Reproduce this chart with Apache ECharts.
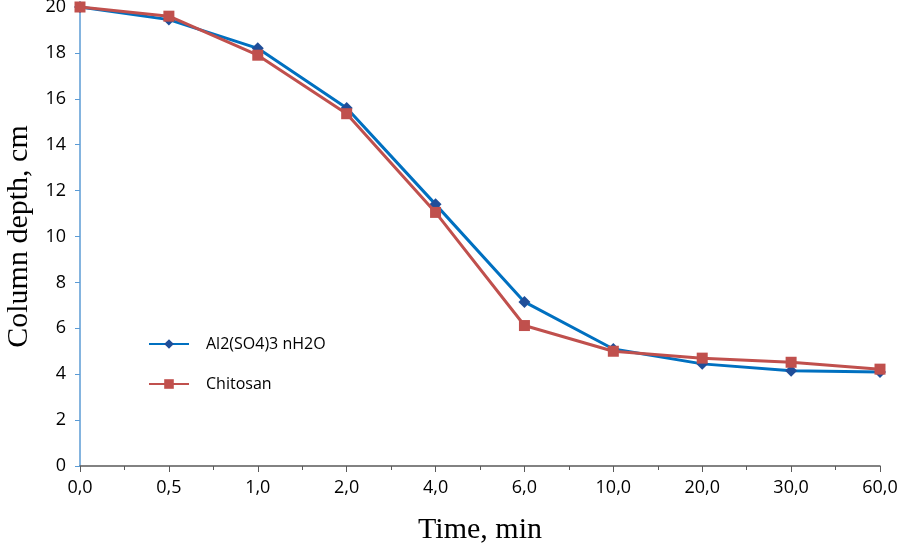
<!DOCTYPE html>
<html>
<head>
<meta charset="utf-8">
<script src="https://cdn.jsdelivr.net/npm/echarts@6/dist/echarts.min.js"></script>
<style>html,body{margin:0;padding:0;background:#fff}#c{width:898px;height:547px}</style>
</head>
<body>
<div id="c"></div>
<script>
const timeLabels = ['0,0','0,5','1,0','2,0','4,0','6,0','10,0','20,0','30,0','60,0'];
const alumValues = [20, 19.45, 18.2, 15.6, 11.4, 7.15, 5.1, 4.45, 4.15, 4.1];
const chitosanValues = [20, 19.6, 17.9, 15.35, 11.05, 6.12, 5.0, 4.7, 4.52, 4.22];
const yTicks = [0, 20, 2];

const chart = echarts.init(document.getElementById('c'));
const toPts = arr => arr.map((v, i) => [i, v]);
chart.setOption({
  animation: false,
  backgroundColor: '#fff',
  grid: { left: 80, right: 18, top: 7, bottom: 81, containLabel: false, outerBoundsMode: 'none' },
  legend: {
    orient: 'vertical', left: 143, top: 331, itemWidth: 40, itemHeight: 12, itemGap: 24,
    textStyle: { fontFamily: 'Open Sans', fontSize: 16, color: '#000', padding: [0, 0, 0, 12] },
    data: ['Al2(SO4)3 nH2O', 'Chitosan']
  },
  xAxis: {
    type: 'value', min: 0, max: timeLabels.length - 1, interval: 1,
    name: 'Time, min', nameLocation: 'middle', nameGap: 49,
    nameTextStyle: { fontFamily: 'Liberation Serif', fontSize: 30, color: '#000' },
    axisLine: { lineStyle: { color: '#595959', width: 1.5 } },
    axisTick: { show: true, length: 6, lineStyle: { color: '#595959' } },
    minorTick: { show: true, splitNumber: 2, length: 4, lineStyle: { color: '#595959' } },
    splitLine: { show: false },
    axisLabel: { fontFamily: 'Open Sans', fontSize: 18, color: '#000', margin: 13,
      formatter: v => timeLabels[v] !== undefined ? timeLabels[v] : '' }
  },
  yAxis: {
    type: 'value', min: yTicks[0], max: yTicks[1], interval: yTicks[2],
    name: 'Column depth, cm', nameLocation: 'middle', nameGap: 42,
    nameTextStyle: { fontFamily: 'Liberation Serif', fontSize: 30, color: '#000' },
    axisLine: { show: true, lineStyle: { color: '#5b9bd5', width: 1.5 } },
    axisTick: { show: true, length: 5, lineStyle: { color: '#5b9bd5' } },
    splitLine: { show: false },
    axisLabel: { fontFamily: 'Open Sans', fontSize: 18, color: '#000', margin: 14 }
  },
  series: [
    { name: 'Al2(SO4)3 nH2O', type: 'line', data: toPts(alumValues),
      symbol: 'diamond', symbolSize: 12,
      lineStyle: { color: '#0070c0', width: 3 },
      itemStyle: { color: '#1f4e99' }, color: '#0070c0', z: 2 },
    { name: 'Chitosan', type: 'line', data: toPts(chitosanValues),
      symbol: 'rect', symbolSize: 11,
      lineStyle: { color: '#c0504d', width: 3 },
      itemStyle: { color: '#c0504d' }, color: '#c0504d', z: 3 }
  ]
});
</script>
</body>
</html>
